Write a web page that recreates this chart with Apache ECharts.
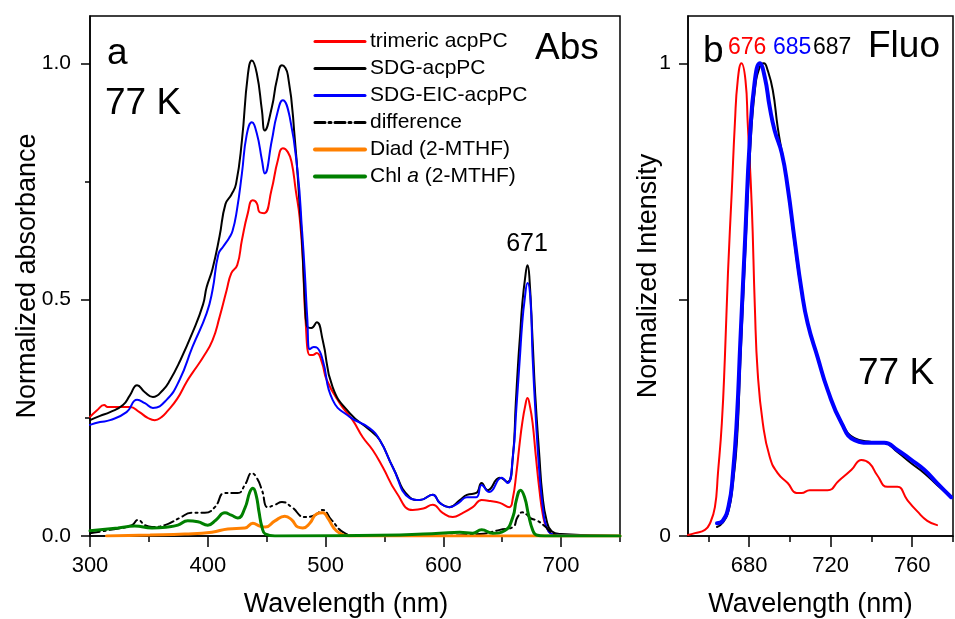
<!DOCTYPE html>
<html>
<head>
<meta charset="utf-8">
<script src="https://cdn.jsdelivr.net/npm/echarts@6/dist/echarts.min.js"></script>
<style>
html,body{margin:0;padding:0;background:#fff;}
#chart{width:955px;height:619px;}
</style>
</head>
<body>
<div id="chart"></div>
<script>
// ---------- Panel a: 77 K absorption (wavelength nm, normalized absorbance) ----------
const absTrimeric = [[300,0.252],[306,0.266],[312,0.277],[315,0.273],[321,0.273],[327,0.273],[334,0.273],[342,0.262],[349,0.250],[355,0.245],[361,0.252],[365,0.262],[374,0.290],[382,0.326],[387,0.345],[396,0.378],[404,0.414],[410,0.463],[416,0.520],[420,0.556],[425,0.573],[429,0.626],[434,0.683],[438,0.710],[441.6,0.704],[444,0.685],[448,0.683],[454,0.731],[459.5,0.795],[463.7,0.820],[468,0.812],[471.3,0.789],[474.7,0.731],[478,0.674],[480.7,0.584],[483,0.457],[486.6,0.383],[489,0.383],[492.5,0.387],[496.8,0.368],[501,0.330],[512,0.281],[523,0.245],[531.6,0.209],[540,0.182],[548.5,0.146],[560.4,0.091],[574,0.055],[583,0.058],[591,0.066],[599.4,0.049],[608,0.040],[616,0.048],[625,0.061],[632.5,0.076],[640,0.074],[648,0.070],[656,0.061],[659,0.080],[662,0.133],[665,0.200],[667,0.239],[669.5,0.275],[671.5,0.292],[673.5,0.275],[675.8,0.239],[678.5,0.170],[681.6,0.097],[684.5,0.045],[687.6,0.019],[692.7,0.004],[700,0.002],[750,0]];
const absSDG = [[300,0.245],[308.5,0.254],[317,0.262],[328,0.277],[334,0.298],[340,0.319],[346.6,0.304],[353.4,0.294],[362,0.309],[368,0.330],[376,0.368],[387,0.430],[396,0.490],[399,0.526],[404,0.565],[410,0.634],[415,0.702],[420,0.722],[424,0.745],[429,0.837],[434,0.975],[437.4,1.006],[441.6,0.979],[446,0.900],[448.4,0.858],[454.4,0.907],[458.6,0.964],[463,0.996],[468,0.975],[474,0.837],[478,0.700],[480,0.626],[482.4,0.499],[484,0.445],[488,0.440],[492.5,0.452],[497.6,0.414],[506,0.315],[520.5,0.260],[537.5,0.224],[546,0.203],[557,0.146],[571.4,0.082],[580,0.076],[591,0.087],[597,0.070],[605,0.061],[614,0.076],[620,0.087],[628,0.091],[632.5,0.112],[637.6,0.097],[648,0.123],[654.5,0.114],[659,0.167],[661.5,0.280],[663.6,0.370],[665.3,0.430],[667,0.490],[669.4,0.545],[671.5,0.573],[673,0.550],[675.8,0.414],[678,0.300],[681.6,0.167],[684,0.090],[687.6,0.034],[692,0.010],[700,0.004],[750,0]];
const absSDGEIC = [[300,0.235],[308.5,0.241],[317,0.245],[331,0.262],[340,0.288],[346.6,0.281],[353.4,0.271],[365,0.288],[376,0.330],[387,0.400],[399,0.471],[404,0.520],[409,0.596],[413,0.612],[418,0.630],[421,0.645],[424.7,0.689],[429,0.767],[433,0.848],[437.4,0.875],[441.6,0.852],[446,0.795],[448.4,0.767],[454.4,0.837],[458.6,0.890],[463.7,0.922],[469.6,0.886],[476.4,0.767],[480,0.647],[482.4,0.556],[484.5,0.460],[486.6,0.395],[490,0.400],[493,0.398],[497.6,0.372],[506,0.288],[520.5,0.252],[537.5,0.228],[546,0.203],[557,0.146],[571.4,0.080],[580,0.076],[591,0.087],[597,0.070],[605,0.061],[613,0.070],[620,0.082],[628,0.082],[632.5,0.108],[639,0.093],[649.5,0.123],[654.5,0.112],[659,0.167],[662,0.270],[665,0.378],[667,0.450],[669,0.499],[671.5,0.535],[674,0.499],[675.8,0.378],[678.5,0.250],[681.6,0.133],[684.5,0.060],[687.6,0.019],[692.7,0.004],[700,0.002],[750,0]];
const absDifference = [[300,0.006],[317,0.013],[335.6,0.023],[340.7,0.034],[346.6,0.023],[352.6,0.019],[363.6,0.023],[376,0.038],[386.5,0.049],[397.5,0.049],[406,0.061],[414.5,0.091],[425.5,0.091],[431.5,0.108],[437.4,0.133],[441.6,0.123],[446,0.097],[451,0.061],[457,0.066],[463,0.072],[471.3,0.061],[482.4,0.040],[491,0.044],[497.6,0.055],[505,0.034],[516.3,0.006],[527.3,0],[580,0],[631,0.004],[648,0.013],[659,0.019],[663,0.040],[667,0.050],[671,0.045],[674,0.038],[680,0.032],[686,0.021],[692.7,0.006],[703,0],[750,0]];
const absDiad = [[314,0],[351,0.002],[380.5,0.004],[403.5,0.008],[417,0.015],[431.5,0.017],[438.3,0.027],[444,0.021],[449,0.019],[457,0.032],[465.4,0.042],[471.3,0.034],[476.4,0.019],[480.7,0.017],[486.6,0.027],[492.5,0.047],[497.6,0.049],[501.9,0.038],[507,0.017],[512,0.006],[520.5,0],[750,0]];
const absChlA = [[300,0.011],[323.7,0.017],[338,0.021],[352.6,0.017],[366,0.019],[374.6,0.023],[383,0.032],[391.6,0.030],[400,0.023],[407,0.034],[414.5,0.049],[420,0.044],[425.5,0.038],[431.5,0.059],[435.7,0.093],[438.3,0.101],[441,0.087],[443.5,0.051],[446,0.019],[449,0.004],[457,0],[563,0.002],[597,0.006],[614,0.008],[625,0.006],[632.5,0.013],[642,0.006],[652,0.011],[659,0.040],[662,0.076],[665.6,0.097],[669,0.082],[672.4,0.044],[675.8,0.013],[679,0.002],[686,0],[750,0]];

// ---------- Panel b: 77 K fluorescence (wavelength nm, normalized intensity) ----------
const fluoTrimeric = [[650,0.002],[653.4,0.006],[658.3,0.013],[660.8,0.027],[663.2,0.061],[664.7,0.133],[666.6,0.239],[668.1,0.378],[669.6,0.556],[671.5,0.731],[673,0.873],[674.4,0.964],[676.2,1.0],[678.2,0.964],[679.3,0.873],[681.3,0.696],[682.8,0.484],[684.2,0.345],[686.7,0.239],[690.1,0.167],[694,0.133],[698.9,0.112],[703.3,0.091],[705.7,0.091],[709.7,0.097],[718.5,0.097],[724,0.117],[730.2,0.140],[735.1,0.161],[739,0.154],[742.9,0.128],[747.8,0.104],[752.7,0.104],[757.6,0.076],[762.5,0.052],[767.4,0.032],[772.2,0.023]];
const fluoSDG = [[664.2,0.019],[667,0.028],[670,0.055],[672,0.110],[674,0.200],[675.7,0.370],[678,0.590],[680.3,0.801],[682.8,0.943],[685.2,0.992],[687.2,1.0],[689.1,0.985],[691.6,0.943],[694,0.865],[696.5,0.801],[698.9,0.738],[701.3,0.653],[704.8,0.541],[708.7,0.450],[713.6,0.378],[718.5,0.309],[725.3,0.241],[731.7,0.207],[740,0.199],[746.3,0.197],[752.7,0.178],[759.5,0.154],[765.9,0.133],[772.2,0.108],[779.1,0.082]];
const fluoSDGEIC = [[664.2,0.027],[667,0.032],[670,0.065],[672,0.130],[674,0.250],[675.7,0.414],[678,0.626],[680.3,0.837],[682.8,0.964],[685.2,1.0],[687.7,0.970],[690.1,0.907],[692.5,0.858],[696,0.810],[698.9,0.738],[702.3,0.626],[705.7,0.520],[708.7,0.450],[713.6,0.378],[718.5,0.309],[725.3,0.239],[731.7,0.203],[740,0.197],[746.3,0.197],[752.7,0.182],[759.5,0.161],[765.9,0.140],[772.2,0.112],[779.1,0.082]];

// ---------- axis ticks ----------
const absXMajor = [300,400,500,600,700];
const absXMinor = [350,450,550,650,750];
const absYMajor = [0,0.5,1.0];
const absYMinor = [0.25,0.75];
const fluoXMajor = [680,720,760];
const fluoXMinor = [660,700,740,780];
const fluoYLabels = [0,1];
const fluoYTicks = [0,0.5,1];

const legendNames = ['trimeric acpPC','SDG-acpPC','SDG-EIC-acpPC','difference','Diad (2-MTHF)','Chl a (2-MTHF)'];

const FONT = 'Liberation Sans, Arial, sans-serif';
const chart = echarts.init(document.getElementById('chart'), null, {renderer:'canvas'});

function majorX(grid, min, max, ticks, name, shift){
  return {gridIndex:grid, type:'value', position:'bottom', min:min, max:max,
    axisLine:{show:true, onZero:false, lineStyle:{color:'#000', width:1.5}},
    axisTick:{show:true, inside:false, length:11, customValues:ticks, lineStyle:{color:'#000', width:1.5}},
    axisLabel:{customValues:ticks, margin:19, color:'#000', fontSize:22, fontFamily:FONT},
    splitLine:{show:false},
    name:name, nameLocation:'middle', nameGap:55,
    nameTextStyle:{color:'#000', fontSize:27, fontFamily:FONT, padding:[0,shift,0,0]}};
}
function minorX(grid, min, max, ticks){
  return {gridIndex:grid, type:'value', position:'bottom', min:min, max:max,
    axisLine:{show:false, onZero:false}, axisLabel:{show:false}, splitLine:{show:false},
    axisTick:{show:true, inside:false, length:6, customValues:ticks, lineStyle:{color:'#000', width:1.5}}};
}
function majorY(grid, ticks, labels, fmt, margin, name, gap){
  return {gridIndex:grid, type:'value', position:'left', min:0, max:1.1,
    axisLine:{show:true, onZero:false, lineStyle:{color:'#000', width:1.5}},
    axisTick:{show:true, inside:false, length:9, customValues:ticks, lineStyle:{color:'#000', width:1.5}},
    axisLabel:{customValues:labels, margin:margin, color:'#000', fontSize:21, fontFamily:FONT, formatter:fmt},
    splitLine:{show:false},
    name:name, nameLocation:'middle', nameGap:gap, nameRotate:90, nameMoveOverlap:false,
    nameTextStyle:{color:'#000', fontSize:27, fontFamily:FONT}};
}
function minorY(grid, ticks, len){
  return {gridIndex:grid, type:'value', position:'left', min:0, max:1.1,
    axisLine:{show:false, onZero:false}, axisLabel:{show:false}, splitLine:{show:false},
    axisTick:{show:true, inside:false, length:len, customValues:ticks, lineStyle:{color:'#000', width:1.5}}};
}
function line(name, data, color, width, xi, yi, type){
  return {name:name, type:'line', data:data, xAxisIndex:xi, yAxisIndex:yi,
    showSymbol:false, symbol:'none', smooth:0.5, animation:false,
    lineStyle:{color:color, width:width, type:type||'solid', join:'round', cap:'round'}, itemStyle:{color:color},
    emphasis:{disabled:true}};
}
const legendWidths = [3,3,3,3,4,4];

const option = {
  animation:false,
  backgroundColor:'#fff',
  textStyle:{fontFamily:FONT},
  grid:[
    {left:90, top:16, width:530, height:520, show:true, borderColor:'#000', borderWidth:1.5, backgroundColor:'transparent', containLabel:false, outerBoundsMode:'none'},
    {left:688, top:16, width:265, height:520, show:true, borderColor:'#000', borderWidth:1.5, backgroundColor:'transparent', containLabel:false, outerBoundsMode:'none'}
  ],
  xAxis:[
    majorX(0,300,750,absXMajor,'Wavelength (nm)',18),
    minorX(0,300,750,absXMinor),
    majorX(1,650,780,fluoXMajor,'Wavelength (nm)',20),
    minorX(1,650,780,fluoXMinor)
  ],
  yAxis:[
    majorY(0,absYMajor,absYMajor,v=>v.toFixed(1),19,'Normalized absorbance',49),
    minorY(0,absYMinor,5),
    majorY(1,fluoYTicks,fluoYLabels,v=>String(Math.round(v)),17,'Normalized Intensity',26),
    minorY(1,[],5)
  ],
  legend:{
    data:legendNames.map((n,i)=>({name:n, lineStyle:{width:legendWidths[i]}})),
    left:308, top:26, orient:'vertical', itemWidth:50, itemHeight:14, itemGap:6,
    selectedMode:false,
    itemStyle:{opacity:0, color:'transparent', borderWidth:0},
    textStyle:{color:'#000', fontSize:21, fontFamily:FONT, lineHeight:21,
      rich:{n:{fontSize:21, fontFamily:FONT, color:'#000'}, i:{fontSize:21, fontFamily:FONT, fontStyle:'italic', color:'#000'}}},
    formatter:function(n){ return n==='Chl a (2-MTHF)' ? '{n|Chl }{i|a}{n| (2-MTHF)}' : n; }
  },
  series:[
    line('trimeric acpPC', absTrimeric, '#ff0000', 2, 0, 0),
    line('SDG-acpPC', absSDG, '#000000', 2, 0, 0),
    line('SDG-EIC-acpPC', absSDGEIC, '#0000ff', 2, 0, 0),
    line('difference', absDifference, '#000000', 2, 0, 0, [10,4,2,4]),
    line('Diad (2-MTHF)', absDiad, '#ff8000', 3, 0, 0),
    line('Chl a (2-MTHF)', absChlA, '#008000', 3, 0, 0),
    line('trimeric acpPC fluorescence', fluoTrimeric, '#ff0000', 2, 2, 2),
    line('SDG-acpPC fluorescence', fluoSDG, '#000000', 2, 2, 2),
    line('SDG-EIC-acpPC fluorescence', fluoSDGEIC, '#0000ff', 4, 2, 2)
  ],
  graphic:[
    {type:'text', x:107, y:54, style:{text:'a', font:'37px '+FONT, fill:'#000', textVerticalAlign:'middle'}},
    {type:'text', x:105, y:104, style:{text:'77 K', font:'37px '+FONT, fill:'#000', textVerticalAlign:'middle'}},
    {type:'text', x:535, y:49, style:{text:'Abs', font:'37px '+FONT, fill:'#000', textVerticalAlign:'middle'}},
    {type:'text', x:527, y:244, style:{text:'671', font:'25px '+FONT, fill:'#000', textAlign:'center', textVerticalAlign:'middle'}},
    {type:'text', x:703, y:52, style:{text:'b', font:'37px '+FONT, fill:'#000', textVerticalAlign:'middle'}},
    {type:'text', x:728, y:48, style:{text:'676', font:'23px '+FONT, fill:'#ff0000', textVerticalAlign:'middle'}},
    {type:'text', x:773, y:48, style:{text:'685', font:'23px '+FONT, fill:'#0000ff', textVerticalAlign:'middle'}},
    {type:'text', x:813, y:48, style:{text:'687', font:'23px '+FONT, fill:'#000', textVerticalAlign:'middle'}},
    {type:'text', x:868, y:47, style:{text:'Fluo', font:'37px '+FONT, fill:'#000', textVerticalAlign:'middle'}},
    {type:'text', x:858, y:374, style:{text:'77 K', font:'37px '+FONT, fill:'#000', textVerticalAlign:'middle'}}
  ]
};
chart.setOption(option);
</script>
</body>
</html>
